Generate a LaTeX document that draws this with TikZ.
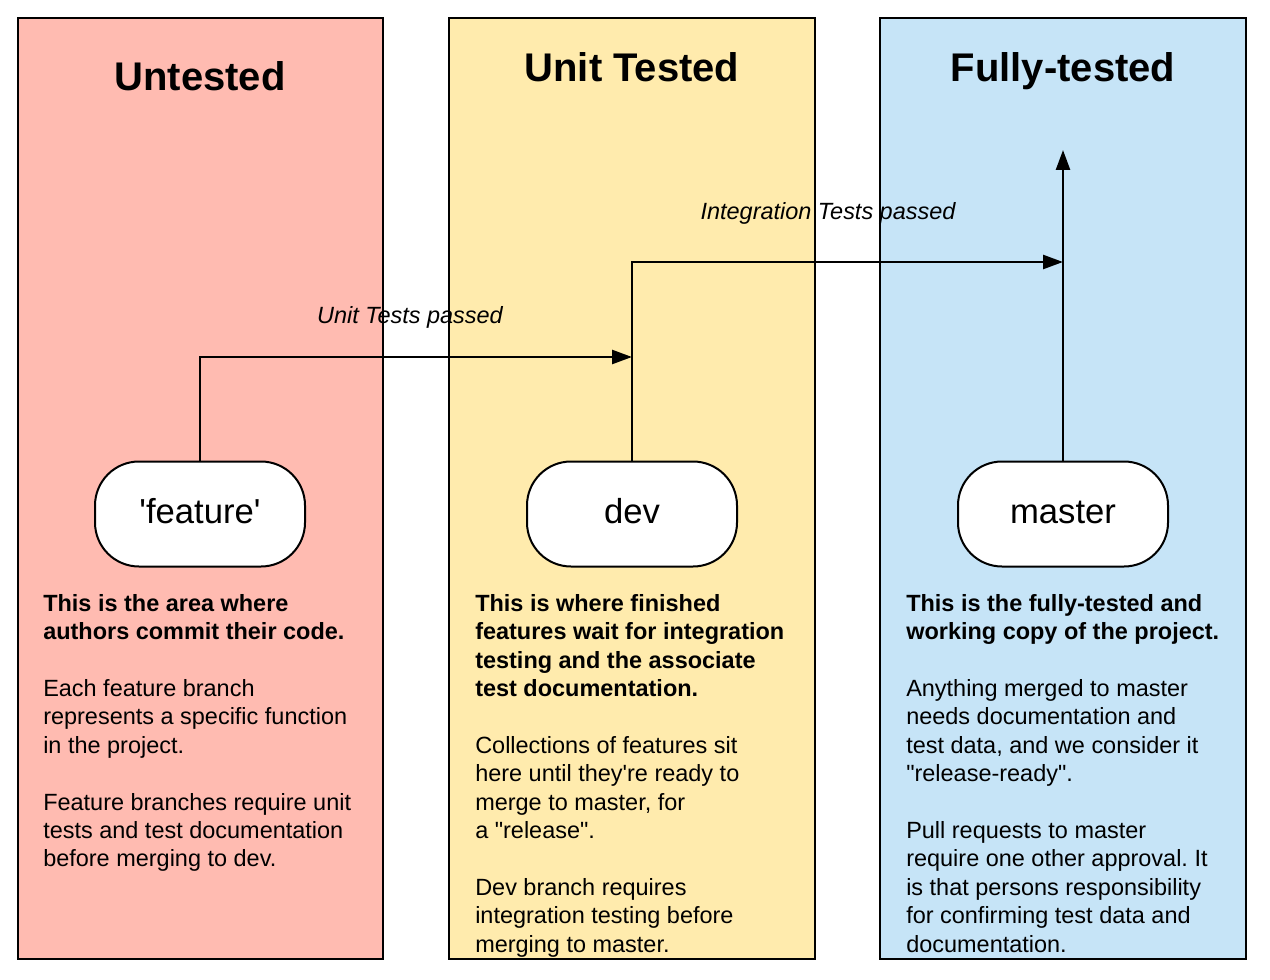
\documentclass[tikz,border=0pt]{standalone}
\usepackage{fontspec}
\setmainfont{Liberation Sans}
\usetikzlibrary{arrows.meta}
\definecolor{untested}{HTML}{FFBBB1}
\definecolor{unittested}{HTML}{FFEBAD}
\definecolor{fullytested}{HTML}{C6E4F7}
\frenchspacing

\begin{document}
\begin{tikzpicture}[x=0.75pt,y=-0.75pt,->,>={Triangle[length=15pt,width=10.5pt]},line width=1.9pt]
\tikzstyle{col}=[draw=black,-]
\tikzstyle{title}=[anchor=base,font=\fontsize{30}{36}\selectfont\bfseries]
\tikzstyle{branch}=[draw,fill=white,line width=1.5pt,rounded corners=33pt,minimum width=157.5pt,minimum height=78.75pt,text height=19pt,text depth=4.5pt,font=\fontsize{26}{31}\selectfont]
\tikzstyle{note}=[anchor=north west,align=left,inner sep=0pt,font=\fontsize{17.6}{21.3}\selectfont]
\tikzstyle{pass}=[anchor=base,font=\fontsize{17.6}{21}\selectfont\itshape]
\useasboundingbox (0,0) rectangle (1270,980);
% columns
\draw[col,fill=untested]	(18,18)		rectangle (383,959);
\draw[col,fill=unittested]	(449,18)	rectangle (815,959);
\draw[col,fill=fullytested]	(880,18)	rectangle (1246,959);
\node[title]	(tU)	at (200,91)		{Untested};
\node[title]	(tUT)	at (632,82)		{Unit Tested};
\node[title]	(tFT)	at (1063,82)	{Fully-tested};
% branches
\node[branch]	(feature)	at (200,514)	{\textquotesingle feature\textquotesingle};
\node[branch]	(dev)		at (632,514)	{dev};
\node[branch]	(master)	at (1063,514)	{master};
\coordinate	(devin)		at (632,357);
\coordinate	(masterin)	at (1063,262);
\coordinate	(release)	at (1063,150);
\node[pass]	(unitpass)	at (410,324)	{Unit Tests passed};
\node[pass]	(intpass)	at (828,220)	{Integration Tests passed};
\draw	(feature.north)	|-	(devin);
\draw	(dev.north)		|-	(masterin);
\draw	(master.north)	--	(release);
% notes
\node[note]	(untestednote)	at (42,593)	{\textbf{This is the area where}\\
\textbf{authors commit their code.}\\[21.3pt]
Each feature branch\\
represents a specific function\\
in the project.\\[21.3pt]
Feature branches require unit\\
tests and test documentation\\
before merging to dev.};
\node[note]	(unitnote)	at (474,593)	{\textbf{This is where finished}\\
\textbf{features wait for integration}\\
\textbf{testing and the associate}\\
\textbf{test documentation.}\\[21.3pt]
Collections of features sit\\
here until they\textquotesingle re ready to\\
merge to master, for\\
a \textquotedbl release\textquotedbl .\\[21.3pt]
Dev branch requires\\
integration testing before\\
merging to master.};
\node[note]	(fullnote)	at (905,593)	{\textbf{This is the fully-tested and}\\
\textbf{working copy of the project.}\\[21.3pt]
Anything merged to master\\
needs documentation and\\
test data, and we consider it\\
\textquotedbl release-ready\textquotedbl .\\[21.3pt]
Pull requests to master\\
require one other approval. It\\
is that persons responsibility\\
for confirming test data and\\
documentation.};
\end{tikzpicture}
\end{document}
